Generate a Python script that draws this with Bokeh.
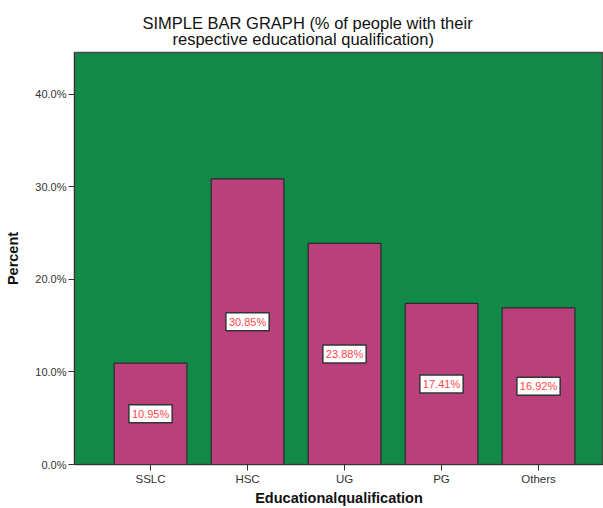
from bokeh.plotting import figure
from bokeh.models import Range1d, FixedTicker, PrintfTickFormatter, Label, ColumnDataSource, Title
from bokeh.embed import file_html
from bokeh.resources import INLINE

# ---- data ----
categories = ["SSLC", "HSC", "UG", "PG", "Others"]
percent = [10.95, 30.85, 23.88, 17.41, 16.92]
y_ticks = [0, 10, 20, 30, 40]
title_lines = ["SIMPLE BAR GRAPH (% of people with their", "respective educational qualification)"]
x_title = "Educationalqualification"
y_title = "Percent"

positions = list(range(1, len(categories) + 1))

FONT = "Liberation Sans"
GREEN = "#118A48"
MAGENTA = "#B9407B"

p = figure(width=603, height=508, output_backend="svg", toolbar_location=None,
           x_range=Range1d(0.216, 5.67), y_range=Range1d(0, 44.5),
           min_border_left=74, min_border_top=52, min_border_bottom=30,
           min_border_right=0)
p.background_fill_color = GREEN
p.border_fill_color = "white"
p.outline_line_color = "#4a4a4a"
p.outline_line_width = 1.5
p.xgrid.grid_line_color = None
p.ygrid.grid_line_color = None

# title: line 1 outermost (plot title), line 2 nearest the frame
p.title.text = title_lines[0]
p.title.align = "left"
p.title.offset = 68
p.title.text_font = FONT
p.title.text_font_size = "16.5px"
p.title.text_font_style = "normal"
p.title.text_color = "#111111"
try:
    p.title.standoff = -18
except Exception:
    p.title.standoff = 0
t2 = Title(text=title_lines[1], align="left", offset=98, standoff=10, text_font=FONT,
           text_font_size="16.5px", text_font_style="normal", text_color="#111111")
p.add_layout(t2, "above")

src = ColumnDataSource(dict(x=positions, top=percent, cat=categories))
p.vbar(x="x", top="top", width=0.75, source=src, fill_color=MAGENTA,
       line_color="#2b2b2b", line_width=1.2)

# value labels
for xp, v in zip(positions, percent):
    p.add_layout(Label(x=xp, y=v / 2, text=f"{v:.2f}%", text_align="center",
                       text_baseline="middle", text_font=FONT, text_font_size="11px",
                       text_color="#FF4545", background_fill_color="white",
                       border_line_color="#333333", border_line_width=1.5, padding=3))

# x axis
xa = p.xaxis[0]
xa.ticker = FixedTicker(ticks=positions)
xa.major_label_overrides = {xp: c for xp, c in zip(positions, categories)}
xa.major_label_text_font = FONT
xa.major_label_text_font_size = "11.5px"
xa.major_label_text_color = "#333333"
xa.major_label_standoff = 2
xa.major_tick_out = 6
xa.major_tick_in = 0
xa.minor_tick_line_color = None
xa.axis_line_color = "#333333"
xa.major_tick_line_color = "#333333"
xa.axis_label = x_title
xa.axis_label_text_font = FONT
xa.axis_label_text_font_style = "bold"
xa.axis_label_text_font_size = "14.5px"
xa.axis_label_text_color = "#111111"
xa.axis_label_standoff = 2

# y axis
ya = p.yaxis[0]
ya.ticker = FixedTicker(ticks=y_ticks)
ya.formatter = PrintfTickFormatter(format="%.1f%%")
ya.major_label_text_font = FONT
ya.major_label_text_font_size = "11px"
ya.major_label_text_color = "#333333"
ya.major_label_standoff = 2
ya.major_tick_out = 6
ya.major_tick_in = 0
ya.minor_tick_line_color = None
ya.axis_line_color = "#333333"
ya.major_tick_line_color = "#333333"
ya.axis_label = y_title
ya.axis_label_text_font = FONT
ya.axis_label_text_font_style = "bold"
ya.axis_label_text_font_size = "14.5px"
ya.axis_label_text_color = "#111111"
ya.axis_label_standoff = 11

open("out.html", "w").write(file_html(p, INLINE))
